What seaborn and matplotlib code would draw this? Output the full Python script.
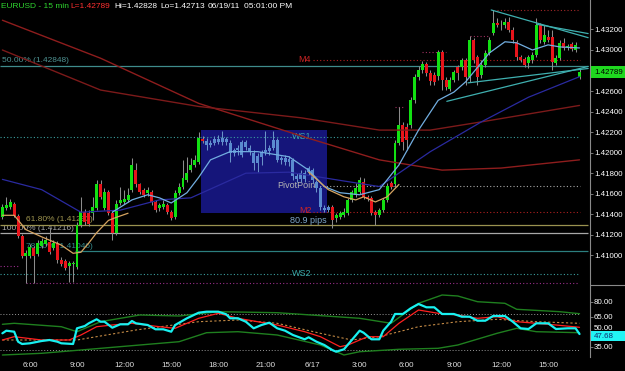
import matplotlib
matplotlib.use("Agg")
import matplotlib.pyplot as plt
from matplotlib.patches import Rectangle
from matplotlib.lines import Line2D
from matplotlib.transforms import ScaledTranslation
import numpy as np
import pandas as pd
import seaborn as sns

# ------------------------------------------------------------------ data
time_labels = ["6:00", "9:00", "12:00", "15:00", "18:00", "21:00", "6/17",
               "3:00", "6:00", "9:00", "12:00", "15:00"]
time_bars = [7, 19, 31, 43, 55, 67, 79, 91, 103, 115, 127, 139]

opens = [
    1.4137, 1.4146, 1.4147, 1.4150, 1.4138, 1.4119, 1.4099, 1.4099, 1.4107, 1.4101,
    1.4109, 1.4111, 1.4113, 1.4107, 1.4112, 1.4095, 1.4094, 1.4090, 1.4092, 1.4089,
    1.4130, 1.4142, 1.4141, 1.4141, 1.4146, 1.4169, 1.4146, 1.4162, 1.4141, 1.4122,
    1.4151, 1.4152, 1.4154, 1.4164, 1.4183, 1.4169, 1.4164, 1.4161, 1.4162, 1.4152,
    1.4146, 1.4147, 1.4149, 1.4142, 1.4137, 1.4161, 1.4167, 1.4173, 1.4183, 1.4188,
    1.4191, 1.4213, 1.4211, 1.4207, 1.4209, 1.4213, 1.4210, 1.4213, 1.4209, 1.4200,
    1.4203, 1.4198, 1.4210, 1.4205, 1.4200, 1.4190, 1.4196, 1.4201, 1.4202, 1.4205,
    1.4212, 1.4193, 1.4195, 1.4191, 1.4193, 1.4177, 1.4174, 1.4180, 1.4181, 1.4183,
    1.4171, 1.4166, 1.4146, 1.4144, 1.4147, 1.4136, 1.4137, 1.4139, 1.4141, 1.4154,
    1.4159, 1.4162, 1.4171, 1.4157, 1.4156, 1.4142, 1.4139, 1.4144, 1.4154, 1.4170,
    1.4169, 1.4209, 1.4227, 1.4225, 1.4227, 1.4251, 1.4274, 1.4281, 1.4286, 1.4278,
    1.4276, 1.4275, 1.4298, 1.4271, 1.4262, 1.4271, 1.4283, 1.4283, 1.4290, 1.4274,
    1.4310, 1.4293, 1.4276, 1.4285, 1.4297, 1.4317, 1.4326, 1.4324, 1.4324, 1.4327,
    1.4319, 1.4308, 1.4293, 1.4291, 1.4287, 1.4290, 1.4295, 1.4324, 1.4308, 1.4313,
    1.4313, 1.4287, 1.4292, 1.4307, 1.4303, 1.4306, 1.4300, 1.42740]
highs = [
    1.4150, 1.4157, 1.4155, 1.4152, 1.4140, 1.4121, 1.4105, 1.4111, 1.4109, 1.4115,
    1.4117, 1.4119, 1.4127, 1.4115, 1.4114, 1.4098, 1.4096, 1.4094, 1.4094, 1.4132,
    1.4157, 1.4145, 1.4144, 1.4157, 1.4173, 1.4173, 1.4166, 1.4164, 1.4143, 1.4154,
    1.4167, 1.4164, 1.4166, 1.4195, 1.4190, 1.4170, 1.4166, 1.4167, 1.4164, 1.4154,
    1.4151, 1.4154, 1.4151, 1.4144, 1.4164, 1.4170, 1.4193, 1.4196, 1.4195, 1.4198,
    1.4220, 1.4216, 1.4214, 1.4212, 1.4216, 1.4217, 1.4221, 1.4215, 1.4212, 1.4205,
    1.4207, 1.4212, 1.4212, 1.4207, 1.4203, 1.4200, 1.4203, 1.4221, 1.4207, 1.4221,
    1.4214, 1.4197, 1.4198, 1.4197, 1.4195, 1.4180, 1.4183, 1.4183, 1.4187, 1.4185,
    1.4173, 1.4168, 1.4149, 1.4149, 1.4149, 1.4141, 1.4143, 1.4146, 1.4156, 1.4164,
    1.4170, 1.4176, 1.4175, 1.4159, 1.4158, 1.4144, 1.4146, 1.4156, 1.4170, 1.4172,
    1.4212, 1.4244, 1.4230, 1.4229, 1.4254, 1.4277, 1.4284, 1.4289, 1.4288, 1.4281,
    1.4279, 1.4300, 1.4300, 1.4274, 1.4274, 1.4281, 1.4285, 1.4292, 1.4292, 1.4314,
    1.4312, 1.4295, 1.4290, 1.4300, 1.4313, 1.4339, 1.4331, 1.4329, 1.4331, 1.4332,
    1.4322, 1.4310, 1.4295, 1.4293, 1.4295, 1.4298, 1.4331, 1.4326, 1.4324, 1.4319,
    1.4319, 1.4295, 1.4310, 1.4312, 1.4306, 1.4308, 1.4308, 1.42828]
lows = [
    1.4135, 1.4144, 1.4145, 1.4137, 1.4117, 1.4097, 1.4073, 1.4097, 1.4073, 1.4099,
    1.4107, 1.4109, 1.4101, 1.4105, 1.4093, 1.4090, 1.4086, 1.4074, 1.4074, 1.4087,
    1.4128, 1.4130, 1.4129, 1.4134, 1.4144, 1.4155, 1.4144, 1.4139, 1.4115, 1.4120,
    1.4149, 1.4150, 1.4152, 1.4162, 1.4167, 1.4160, 1.4157, 1.4158, 1.4149, 1.4142,
    1.4143, 1.4145, 1.4140, 1.4134, 1.4135, 1.4159, 1.4165, 1.4171, 1.4181, 1.4186,
    1.4189, 1.4209, 1.4203, 1.4206, 1.4207, 1.4208, 1.4207, 1.4207, 1.4191, 1.4197,
    1.4198, 1.4196, 1.4203, 1.4198, 1.4183, 1.4181, 1.4188, 1.4198, 1.4198, 1.4203,
    1.4191, 1.4189, 1.4188, 1.4187, 1.4173, 1.4171, 1.4171, 1.4171, 1.4178, 1.4170,
    1.4162, 1.4144, 1.4142, 1.4142, 1.4127, 1.4132, 1.4135, 1.4137, 1.4139, 1.4152,
    1.4157, 1.4160, 1.4155, 1.4153, 1.4139, 1.4130, 1.4137, 1.4142, 1.4152, 1.4165,
    1.4167, 1.4207, 1.4203, 1.4203, 1.4224, 1.4248, 1.4271, 1.4278, 1.4275, 1.4266,
    1.4266, 1.4271, 1.4261, 1.4261, 1.4260, 1.4269, 1.4271, 1.4281, 1.4266, 1.4269,
    1.4287, 1.4266, 1.4273, 1.4283, 1.4295, 1.4315, 1.4322, 1.4319, 1.4321, 1.4318,
    1.4307, 1.4290, 1.4288, 1.4283, 1.4282, 1.4287, 1.4293, 1.4307, 1.4306, 1.4308,
    1.4281, 1.4285, 1.4290, 1.4300, 1.4300, 1.4299, 1.4298, 1.42713]
closes = [
    1.4147, 1.4149, 1.4152, 1.4138, 1.4119, 1.4099, 1.4102, 1.4108, 1.4099, 1.4112,
    1.4114, 1.4115, 1.4103, 1.4112, 1.4095, 1.4092, 1.4088, 1.4093, 1.4093, 1.4130,
    1.4142, 1.4132, 1.4131, 1.4147, 1.4169, 1.4157, 1.4162, 1.4141, 1.4122, 1.4150,
    1.4154, 1.4155, 1.4159, 1.4188, 1.4169, 1.4162, 1.4159, 1.4164, 1.4152, 1.4144,
    1.4149, 1.4150, 1.4142, 1.4136, 1.4161, 1.4167, 1.4175, 1.4180, 1.4188, 1.4193,
    1.4214, 1.4211, 1.4207, 1.4209, 1.4213, 1.4210, 1.4214, 1.4210, 1.4200, 1.4203,
    1.4205, 1.4210, 1.4206, 1.4201, 1.4190, 1.4197, 1.4201, 1.4203, 1.4205, 1.4212,
    1.4193, 1.4195, 1.4191, 1.4194, 1.4177, 1.4174, 1.4180, 1.4174, 1.4185, 1.4173,
    1.4166, 1.4147, 1.4144, 1.4147, 1.4134, 1.4139, 1.4141, 1.4142, 1.4154, 1.4162,
    1.4166, 1.4173, 1.4157, 1.4155, 1.4141, 1.4139, 1.4144, 1.4154, 1.4168, 1.4167,
    1.4209, 1.4227, 1.4210, 1.4212, 1.4251, 1.4274, 1.4281, 1.4286, 1.4278, 1.4270,
    1.4269, 1.4298, 1.4271, 1.4264, 1.4271, 1.4279, 1.4278, 1.4290, 1.4274, 1.4310,
    1.4290, 1.4274, 1.4285, 1.4297, 1.4310, 1.4326, 1.4324, 1.4324, 1.4327, 1.4319,
    1.4310, 1.4293, 1.4290, 1.4285, 1.4293, 1.4295, 1.4324, 1.4310, 1.4315, 1.4310,
    1.4288, 1.4292, 1.4307, 1.4302, 1.4303, 1.4301, 1.4305, 1.42789]

box_first_bar, box_last_bar = 52, 83
box_left, box_right = 50.6, 82.7
box_top, box_bottom = 1.4222, 1.4141

ma_a_bar = [0, 25, 50, 78, 96, 112, 127, 147]
ma_a_val = [1.4329, 1.4292, 1.4248, 1.4214, 1.4193, 1.4183, 1.4185, 1.4193]
ma_b_bar = [0, 25, 50, 76, 96, 109, 122, 147]
ma_b_val = [1.4300, 1.4261, 1.4245, 1.4234, 1.4222, 1.4222, 1.4230, 1.4246]
ma_navy_bar = [0, 10, 20, 30, 40, 48, 62, 73, 86, 96, 109, 122, 134, 147]
ma_navy_val = [1.4174, 1.4164, 1.4142, 1.4144, 1.4154, 1.4156, 1.4180, 1.4181,
               1.4173, 1.4167, 1.4201, 1.4230, 1.4254, 1.4274]
ma_fast_bar = [28, 33, 37, 40, 43, 47, 50, 53, 58, 65, 73, 78, 82, 86, 91, 96, 101,
               106, 111, 115, 118, 124, 128, 131, 135, 139, 142, 147]
ma_fast_val = [1.4142, 1.4154, 1.4159, 1.4156, 1.4151, 1.4161, 1.4176, 1.4193,
               1.4201, 1.4201, 1.4196, 1.4183, 1.4167, 1.4161, 1.4159, 1.4164,
               1.4188, 1.4222, 1.4251, 1.4259, 1.4269, 1.4297, 1.4308, 1.4307,
               1.4300, 1.4305, 1.4303, 1.4302]
tan1_bar = [0, 3, 6, 10, 15, 18, 20, 22, 24, 27, 29, 32]
tan1_val = [1.4139, 1.4139, 1.4125, 1.4118, 1.4110, 1.4102, 1.4103, 1.4112,
            1.4122, 1.4134, 1.4137, 1.4141]
tan2_bar = [78, 83, 87, 90, 92, 95, 98, 101]
tan2_val = [1.4181, 1.4164, 1.4157, 1.4154, 1.4157, 1.4152, 1.4157, 1.4169]

tri_x0 = [124.5, 136.2, 113.2, 118.6]
tri_p0 = [1.4339, 1.4325, 1.4250, 1.4268]
tri_x1 = [149.2, 149.2, 149.2, 149.2]
tri_p1 = [1.4312, 1.4316, 1.4284, 1.4282]

fib_price = [1.42848, 1.41293, 1.41216, 1.41046]
fib_text = ["50.00% (1.42848)", "61.80% (1.41293)", "100.00% (1.41216)", "78.60% (1.41046)"]
fib_color = ["#3f8c8c", "#9a9250", "#a8a8a8", "#2c7f7f"]
fib_start = [-0.6, -0.6, -0.6, 18.5]

piv_names = ["M4", "WS1", "PivotPoint", "M2", "WS2"]
piv_price = [1.4290, 1.4215, 1.41675, 1.4142, 1.4082]
piv_color = ["#b02020", "#3a9e9e", "#a8a8a8", "#b02020", "#3a9e9e"]
piv_start = [79, -0.6, 79, 79, -0.6]
piv_end = [147.2, 147.2, 147.2, 147.2, 146.6]

extra_price = [1.4073, 1.4090, 1.4339, 1.4314, 1.4298, 1.4244]
extra_start = [6, -0.6, 126, 119, 107, 100]
extra_end = [146.6, 4.5, 147.2, 124, 113, 102]
extra_color = ["#9a2f8c", "#9a2f8c", "#a02828", "#a03060", "#a03060", "#a03060"]

price_ticks = [1.410, 1.412, 1.414, 1.416, 1.418, 1.420, 1.422, 1.424, 1.426,
               1.430, 1.432]
last_price = 1.42789

rsi_bar = [0, 1, 3, 4, 5, 7, 10, 12, 14, 15, 18, 19, 21, 22, 24, 25, 26, 28, 30, 32,
           33, 34, 37, 39, 41, 43, 44, 47, 50, 52, 55, 57, 58, 60, 62, 64, 66, 68, 70, 72,
           74, 77, 78, 80, 82, 84, 85, 87, 89, 91, 92, 94, 96, 97, 99, 100, 102, 104, 106, 108,
           110, 112, 115, 117, 119, 121, 123, 125, 128, 130, 132, 134, 136, 139, 141, 144, 146, 147]
rsi_val = [48.4, 51.0, 50.0, 40.0, 37.7, 38.4, 40.7, 41.7, 40.0, 38.4,
           37.7, 53.4, 55.7, 58.4, 62.4, 60.0, 60.0, 54.0, 57.4, 57.4,
           60.7, 58.4, 56.7, 52.4, 52.4, 50.0, 56.7, 63.4, 69.0, 70.0,
           70.0, 67.4, 63.4, 63.4, 60.0, 53.4, 56.7, 59.0, 53.4, 51.0,
           46.7, 42.4, 44.4, 40.0, 36.7, 31.7, 30.0, 32.4, 41.7, 51.0,
           49.0, 42.4, 42.4, 51.0, 60.0, 67.7, 67.7, 73.4, 77.7, 74.4,
           74.4, 67.7, 67.7, 65.0, 65.0, 61.0, 61.0, 65.7, 65.7, 60.0,
           53.4, 52.7, 58.4, 58.4, 52.7, 53.4, 53.4, 47.68]
sig_bar = [0, 3, 10, 17, 20, 24, 28, 33, 40, 44, 50, 55, 60, 65, 70, 77, 81, 86, 88,
           93, 97, 101, 106, 111, 116, 121, 126, 131, 136, 141, 147]
sig_val = [41.7, 45.0, 41.7, 41.7, 46.7, 55.0, 56.7, 58.4, 55.0, 53.4, 63.4, 68.4,
           63.4, 60.0, 56.7, 50.0, 45.0, 35.0, 36.7, 45.0, 45.0, 58.4, 71.7, 68.4,
           66.7, 63.4, 65.0, 60.0, 58.4, 56.7, 54.4]
base_bar = [0, 19, 34, 50, 60, 70, 81, 89, 96, 106, 116, 126, 136, 147]
base_val = [41.7, 41.7, 51.7, 60.0, 61.7, 58.4, 48.4, 41.7, 45.0, 55.0, 60.0,
            62.4, 60.0, 58.4]
ub_bar = [0, 3, 15, 19, 25, 35, 45, 55, 70, 91, 99, 106, 112, 116, 121, 128, 131, 142, 147]
ub_val = [57.4, 58.4, 55.0, 50.0, 60.0, 66.7, 65.7, 70.0, 69.0, 63.4, 58.4, 78.4,
          86.7, 85.7, 80.0, 78.4, 72.4, 70.0, 68.0]
lb_bar = [0, 10, 20, 35, 45, 52, 60, 70, 81, 87, 91, 101, 111, 116, 126, 131, 136, 147]
lb_val = [26.7, 28.4, 31.7, 36.7, 40.0, 49.0, 50.0, 46.7, 36.7, 26.7, 30.0, 32.4,
          33.4, 36.7, 48.4, 53.4, 50.0, 49.0]
osc_levels = [68, 32]
osc_ticks = [80, 65, 50, 35]
osc_last = 47.68

# ------------------------------------------------------------------ style
sns.set_theme(style="dark", rc={"axes.facecolor": "black", "figure.facecolor": "black",
                                "axes.grid": False})
plt.rcParams["font.family"] = ["Liberation Sans", "DejaVu Sans"]

W, H = 625, 371
fig = plt.figure(figsize=(W / 100, H / 100), dpi=100)
fig.patch.set_facecolor("black")
ax = fig.add_axes([0, 1 - 285 / H, 590 / W, 285 / H])
ax2 = fig.add_axes([0, 1 - 357 / H, 590 / W, 72 / H])
for a in (ax, ax2):
    a.set_facecolor("black")
    a.grid(False)
    for s in ("top", "left", "bottom"):
        a.spines[s].set_visible(False)
    a.spines["right"].set_color("#8a8a8a")
    a.spines["right"].set_linewidth(0.8)
    a.set_xlim(-0.611, 149.67)

ax.set_ylim(1.407111, 1.434870)
ax2.set_ylim(24.7, 96.7)

GREEN, RED, BLUE = "#12e012", "#e8141b", "#5a8bd0"
DOT = (0, (1, 2))

# highlight box
ax.add_patch(Rectangle((box_left, box_bottom), box_right - box_left, box_top - box_bottom,
                       facecolor="#15157a", edgecolor="none", zorder=1))

# horizontal fib lines & labels
for p, t, c, x0 in zip(fib_price, fib_text, fib_color, fib_start):
    ax.hlines(p, x0, 149.2, colors=c, linewidth=0.9, zorder=2)

def atext(a, xp, yp, s, color, size=6.0, top=0, height=285, z=1.5):
    a.text(xp / 590, 1 - (yp - top) / height, s, color=color, fontsize=size,
           ha="left", va="center", transform=a.transAxes, zorder=z)

atext(ax, 2, 61, fib_text[0], "#4f9393")
atext(ax, 26, 220, fib_text[1], "#a09650")
atext(ax, 2, 229, fib_text[2], "#a8a8a8")
atext(ax, 26, 246, fib_text[3], "#358a8a")

# pivot dotted levels
for p, c, x0, x1 in zip(piv_price, piv_color, piv_start, piv_end):
    ax.hlines(p, x0, x1, colors=c, linewidth=0.8, linestyles=DOT, zorder=2)
for p, c, x0, x1 in zip(extra_price, extra_color, extra_start, extra_end):
    ax.hlines(p, x0, x1, colors=c, linewidth=0.8, linestyles=DOT, zorder=2)

atext(ax, 298, 60, "M4", "#cc2424", 6.5)
atext(ax, 292, 137, "WS1", "#3aa8a8", 6.5)
atext(ax, 277, 186, "PivotPoint", "#b4b4b4", 6.5)
atext(ax, 299, 211, "M2", "#cc2424", 6.5)
atext(ax, 290, 221, "80.9 pips", "#7fa8cc", 6.5)
atext(ax, 292, 273, "WS2", "#3aa8a8", 6.5)

# candles
idx = np.arange(len(closes))
o = np.array(opens); c = np.array(closes); h = np.array(highs); l = np.array(lows)
in_box = (idx >= box_first_bar) & (idx <= box_last_bar)
body_col = np.where(in_box, BLUE, np.where(c >= o, GREEN, RED))
wick_col = np.where(in_box, "#6a92c8", "#8c8c8c")
ax.vlines(idx, l, h, colors=wick_col, linewidth=0.75, zorder=2.9)
ax.bar(idx, np.maximum(np.abs(c - o), 0.00005), bottom=np.minimum(o, c), width=0.75,
       color=body_col, edgecolor="none", zorder=3)

# moving averages (seaborn)
def line(a, xs, ys, color, lw=0.9, z=4, **kw):
    sns.lineplot(x=xs, y=ys, ax=a, color=color, linewidth=lw, zorder=z,
                 estimator=None, sort=False, **kw)

line(ax, ma_a_bar, ma_a_val, "#8e1d1d", 1.0)
line(ax, ma_b_bar, ma_b_val, "#7c1a1a", 1.0)
line(ax, ma_navy_bar, ma_navy_val, "#2a2aa0", 0.9)
line(ax, ma_fast_bar, ma_fast_val, "#72aee0", 0.9)
line(ax, tan1_bar, tan1_val, "#d6a461", 0.9)
line(ax, tan2_bar, tan2_val, "#d6a461", 0.9)

for x0, p0, x1, p1 in zip(tri_x0, tri_p0, tri_x1, tri_p1):
    ax.plot([x0, x1], [p0, p1], color="#3fb0b0", linewidth=0.9, zorder=4.5)

# oscillator
for lv in osc_levels:
    ax2.axhline(lv, xmin=0, xmax=147.5 / 150.28, color="#9a9a9a", linewidth=0.7,
                linestyle=DOT, zorder=1)
line(ax2, ub_bar, ub_val, "#1f7f1f", 1.0, 2)
line(ax2, lb_bar, lb_val, "#1f7f1f", 1.0, 2)
line(ax2, base_bar, base_val, "#c48a45", 0.8, 2, linestyle=(0, (2, 2)))
line(ax2, sig_bar, sig_val, "#ff2020", 0.9, 3)
line(ax2, rsi_bar, rsi_val, "#18f0f0", 1.6, 4)

# axes ticks
for a in (ax, ax2):
    a.set_xlabel("")
    a.set_ylabel("")
    a.yaxis.tick_right()
    a.tick_params(axis="y", which="both", right=True, left=False, labelright=True,
                  labelleft=False, color="#8a8a8a", labelcolor="white", length=2,
                  width=0.6, pad=0.8, labelsize=5.7)
ax.set_yticks(price_ticks)
ax.set_yticklabels([f"{v:.5f}" for v in price_ticks])
ax.set_xticks([])
ax2.set_yticks(osc_ticks)
ax2.set_yticklabels([f"{v:.2f}" for v in osc_ticks])
# the 50.00 label sits just above the current-value box, as in the original
for lab in ax2.get_yticklabels():
    if lab.get_text() == "50.00":
        lab.set_transform(lab.get_transform() + ScaledTranslation(0, 4.5 / 100, fig.dpi_scale_trans))
ax2.set_xticks(time_bars)
ax2.set_xticklabels(time_labels)
ax2.tick_params(axis="x", bottom=True, length=0, pad=3.5, labelsize=5.8,
                labelcolor="#e0e0e0")

# separator in axis area
fig.add_artist(Line2D([590 / W, 1], [1 - 285 / H] * 2, color="#8a8a8a", linewidth=0.8,
                      transform=fig.transFigure))

# last price boxes
fig.add_artist(Rectangle((591 / W, 1 - 78 / H), 34 / W, 12 / H, transform=fig.transFigure,
                         facecolor="#1fd81f", edgecolor="none", zorder=5))
fig.text(594 / W, 1 - 72 / H, f"{last_price:.5f}", color="black", fontsize=5.7,
         ha="left", va="center", zorder=6)
fig.add_artist(Rectangle((591 / W, 1 - 341 / H), 34 / W, 10 / H, transform=fig.transFigure,
                         facecolor="#22f4f4", edgecolor="none", zorder=5))
fig.text(594 / W, 1 - 336 / H, f"{osc_last:.2f}", color="#102a70", fontsize=5.7,
         ha="left", va="center", zorder=6)

# header
hdr = [(1, "EURUSD - 15 min", "#2fd42f"), (70, "L=1.42789", "#ff3030"),
       (114, "Hi=1.42828", "white"), (160, "Lo=1.42713", "white"),
       (208, "06/19/11", "white"), (244, "05:01:00 PM", "white")]
for xp, s, col in hdr:
    fig.text(xp / W, 1 - 6 / H, s, color=col, fontsize=6, ha="left", va="center")

fig.savefig("out.png", dpi=100, facecolor="black")
